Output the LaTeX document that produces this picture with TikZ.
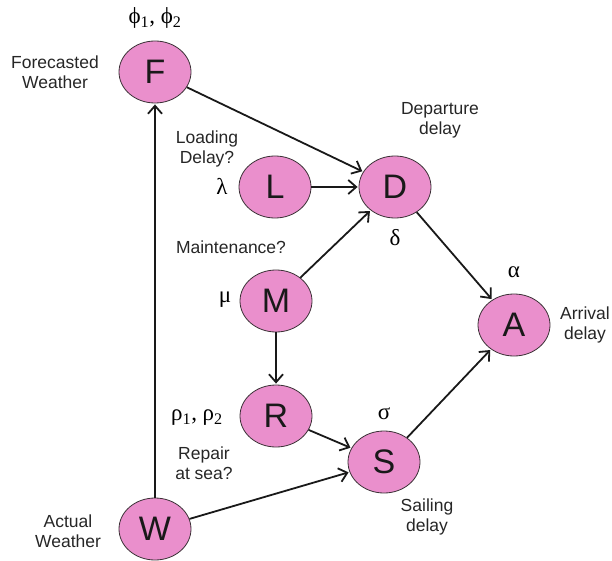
\documentclass[tikz,border=0pt]{standalone}
\usepackage{fontspec}
\setmainfont{Liberation Sans}
\newfontfamily\grk{Liberation Serif}
\usetikzlibrary{shapes.geometric,arrows.meta}
\definecolor{nodepink}{RGB}{234,143,204}
\definecolor{edgegray}{RGB}{60,50,55}
\tikzset{
  var/.style={ellipse,draw=edgegray,line width=0.8pt,fill=nodepink,minimum width=72pt,minimum height=62pt,inner sep=0pt,font=\fontsize{34}{34}\selectfont,text=black!90},
  lab/.style={font=\fontsize{17.5}{20}\selectfont,align=center,text=black!85},
  par/.style={font=\grk\fontsize{23}{23}\selectfont,inner sep=0pt},
  link/.style={draw=black!90,line width=1.8pt,-{Straight Barb[length=8pt,width=14pt,line width=1.8pt]},shorten >=1pt}
}
\begin{document}
\begin{tikzpicture}[x=1pt,y=-1pt]
\useasboundingbox (0,0) rectangle (612,561);
\node[var] (F) at (155,72) {F};
\node[var] (D) at (395,187) {D};
\node[var] (L) at (275,187) {L};
\node[var] (M) at (276,301) {M};
\node[var] (R) at (276,416) {R};
\node[var] (A) at (514,325) {A};
\node[var] (S) at (384,462) {S};
\node[var] (W) at (155,529) {W};

\node[par] (phi) at (155,18) {ϕ\textsubscript{1}, ϕ\textsubscript{2}};
\node[par] (lam) at (222,186) {λ};
\node[par] (del) at (395,238) {δ};
\node[par] (mu) at (225,300) {μ};
\node[par] (alp) at (514,272) {α};
\node[par] (rho) at (197,418) {ρ\textsubscript{1}, ρ\textsubscript{2}};
\node[par] (sig) at (384,414) {σ};

\node[lab] (fw) at (55,72) {Forecasted\\Weather};
\node[lab] (ld) at (207,149) {Loading\\Delay?};
\node[lab] (dd) at (440,120) {Departure\\delay};
\node[lab] (mt) at (231,247) {Maintenance?};
\node[lab] (ad) at (585,325) {Arrival\\delay};
\node[lab] (rs) at (204,463) {Repair\\at sea?};
\node[lab] (sd) at (427,517) {Sailing\\delay};
\node[lab] (aw) at (68,531) {Actual\\Weather};

\draw[link] (W) -- (F);
\draw[link] (F) -- (D);
\draw[link] (L) -- (D);
\draw[link] (M) -- (D);
\draw[link] (M) -- (R);
\draw[link] (D) -- (A);
\draw[link] (R) -- (S);
\draw[link] (W) -- (S);
\draw[link] (S) -- (A);
\end{tikzpicture}
\end{document}
